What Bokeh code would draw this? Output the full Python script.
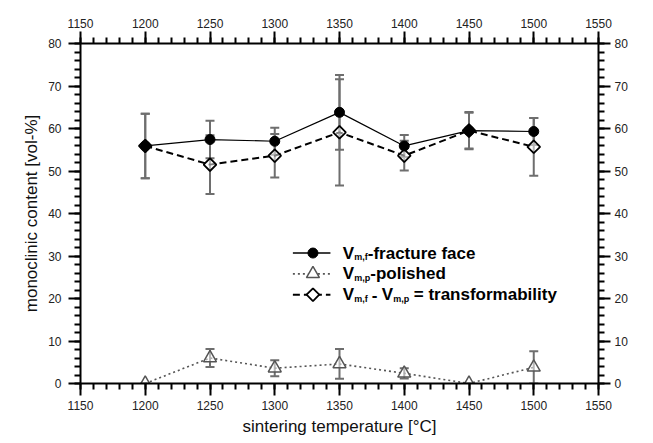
import numpy as np
from bokeh.plotting import figure
from bokeh.models import (ColumnDataSource, Whisker, TeeHead, LinearAxis, Range1d,
                          SingleIntervalTicker, Label)
from bokeh.embed import file_html
from bokeh.resources import INLINE

# ---- data ----
temps = [1200, 1250, 1300, 1350, 1400, 1450, 1500]
fracture = [55.9, 57.4, 57.0, 63.8, 55.9, 59.5, 59.3]
fracture_err = [7.6, 4.4, 3.2, 8.8, 2.6, 4.4, 3.2]
polished = [0.0, 6.0, 3.6, 4.6, 2.4, 0.0, 3.8]
polished_err = [0.0, 2.1, 1.9, 3.5, 1.2, 0.0, 3.8]
transform = [55.9, 51.5, 53.6, 59.1, 53.6, 59.5, 55.7]
transform_err = [7.6, 6.9, 5.1, 12.5, 3.5, 4.2, 6.8]

x_label = "sintering temperature [°C]"
y_label = "monoclinic content [vol-%]"

# legend layout (data units)
LEG_X0, LEG_XM, LEG_X1, LEG_TX = 1314, 1329.5, 1343, 1352.5
LEG_Y = [30.7, 25.8, 20.9]

FONT = "Liberation Sans"
GRAY = "#6e6e6e"


def src(vals, errs):
    v = np.array(vals, dtype=float)
    e = np.array(errs, dtype=float)
    return ColumnDataSource(dict(x=temps, y=v, upper=v + e, lower=v - e))


s_frac = src(fracture, fracture_err)
s_pol = src(polished, polished_err)
s_tra = src(transform, transform_err)

p = figure(width=653, height=443, x_range=Range1d(1150, 1550), y_range=Range1d(0, 80),
           output_backend="svg", toolbar_location=None,
           min_border_left=80, min_border_right=55, min_border_top=43, min_border_bottom=60)
p.grid.visible = False
p.outline_line_color = None
p.background_fill_color = "white"


def style_axis(ax, interval, standoff):
    ax.ticker = SingleIntervalTicker(interval=interval, num_minor_ticks=5)
    ax.axis_line_width = 2
    ax.axis_line_color = "black"
    ax.major_tick_line_width = 2
    ax.minor_tick_line_width = 2
    ax.major_tick_out = 12
    ax.major_tick_in = 0
    ax.minor_tick_out = 6
    ax.minor_tick_in = 0
    ax.major_label_text_font = FONT
    ax.major_label_text_font_size = "12px"
    ax.major_label_text_color = "#222222"
    ax.major_label_standoff = standoff


xb = p.xaxis[0]
yl = p.yaxis[0]
style_axis(xb, 50, 5)
style_axis(yl, 10, 7)
xb.axis_label = x_label
yl.axis_label = y_label
for ax in (xb, yl):
    ax.axis_label_text_font = FONT
    ax.axis_label_text_font_size = "17px"
    ax.axis_label_text_font_style = "normal"
    ax.axis_label_text_color = "#111111"
xb.axis_label_standoff = 4
yl.axis_label_standoff = 4

xt = LinearAxis()
style_axis(xt, 50, 4)
p.add_layout(xt, "above")
yr = LinearAxis()
style_axis(yr, 10, 4)
p.add_layout(yr, "right")

# error bars
for s in (s_frac, s_tra, s_pol):
    w = Whisker(source=s, base="x", upper="upper", lower="lower",
                line_color=GRAY, line_width=2,
                upper_head=TeeHead(size=9, line_color=GRAY, line_width=2),
                lower_head=TeeHead(size=9, line_color=GRAY, line_width=2))
    w.level = "underlay"
    p.add_layout(w)

# lines
p.line("x", "y", source=s_pol, line_color="#555555", line_width=1.6, line_dash="2 3")
p.line("x", "y", source=s_tra, line_color="black", line_width=2, line_dash="7 4")
p.line("x", "y", source=s_frac, line_color="black", line_width=1.2)

# markers
p.scatter("x", "y", source=s_pol, marker="triangle", size=13, line_color="#555555",
          line_width=1.5, fill_color="white", fill_alpha=0.5)
p.scatter("x", "y", source=s_tra, marker="square", angle=np.pi / 4, size=9,
          line_color="black", line_width=1.8, fill_color="white", fill_alpha=0.5)
p.scatter("x", "y", source=s_frac, marker="circle", size=10, line_color="black",
          fill_color="black")

# manual legend
p.line([LEG_X0, LEG_X1], [LEG_Y[0]] * 2, line_color="black", line_width=1.5)
p.scatter([LEG_XM], [LEG_Y[0]], marker="circle", size=10, color="black")
p.line([LEG_X0, LEG_X1], [LEG_Y[1]] * 2, line_color="#555555", line_width=1.6, line_dash="2 3")
p.scatter([LEG_XM], [LEG_Y[1]], marker="triangle", size=13, line_color="#555555",
          line_width=1.5, fill_color="white")
p.line([LEG_X0, LEG_X1], [LEG_Y[2]] * 2, line_color="black", line_width=2, line_dash="7 4")
p.scatter([LEG_XM], [LEG_Y[2]], marker="square", angle=np.pi / 4, size=9,
          line_color="black", line_width=1.8, fill_color="white")

MAIN = "17px"
SUB = "9px"


def piece(text, row, dx, sub=False):
    lab = Label(x=LEG_TX, y=LEG_Y[row], x_offset=dx, y_offset=(-4 if sub else 0), text=text,
                text_font=FONT, text_font_style="bold",
                text_font_size=(SUB if sub else MAIN), text_baseline="middle",
                text_align="left", text_color="black")
    p.add_layout(lab)


piece("V", 0, 0)
piece("m,f", 0, 11.5, True)
piece("-fracture face", 0, 25)
piece("V", 1, 0)
piece("m,p", 1, 11.5, True)
piece("-polished", 1, 27.5)
piece("V", 2, 0)
piece("m,f", 2, 11.5, True)
piece("-", 2, 29)
piece("V", 2, 39)
piece("m,p", 2, 50.5, True)
piece("= transformability", 2, 71)

open("out.html", "w").write(file_html(p, INLINE))
